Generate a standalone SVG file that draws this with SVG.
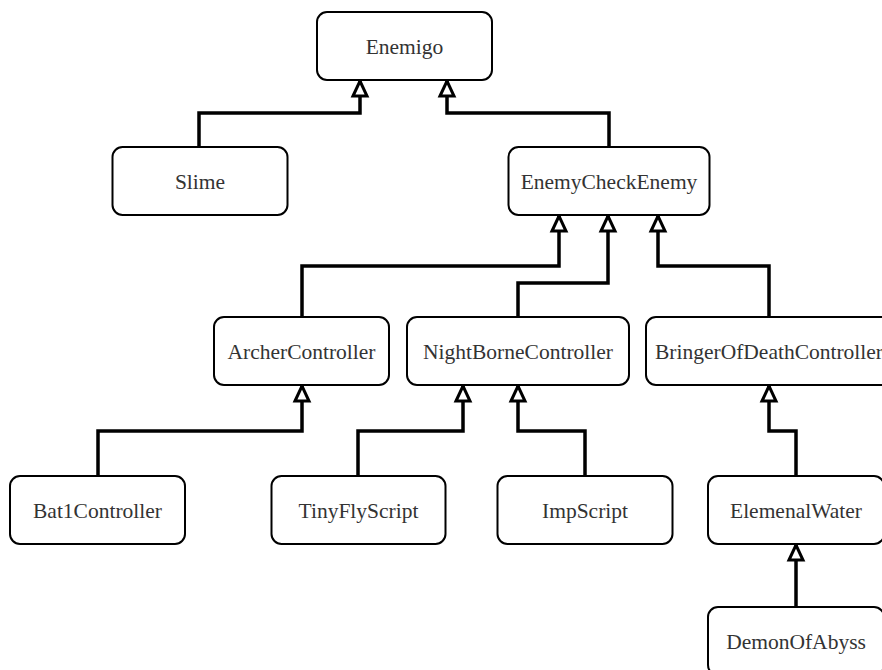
<svg xmlns="http://www.w3.org/2000/svg" width="882" height="670" viewBox="0 0 882 670">
<style>
.node rect{fill:#fff;stroke:#000;stroke-width:2}
.node text{font-family:'Liberation Serif','Times New Roman','DejaVu Serif',serif;font-size:21.5px;fill:#333;text-anchor:middle}
.edge{fill:none;stroke:#000;stroke-width:3.5;marker-end:url(#tri)}
</style>
<defs>
<marker id="tri" markerUnits="userSpaceOnUse" viewBox="0 0 26 26" markerWidth="26" markerHeight="26" refX="19" refY="13" orient="auto">
<path d="M4,6 L19,13 L4,20 Z" fill="#fff" stroke="#000" stroke-width="3"/>
</marker>
</defs>
<rect width="882" height="670" fill="#fff"/>
<g id="connectors">
<path class="edge" d="M199,147 V113 H360 V81"/>
<path class="edge" d="M609,147 V113 H447 V81"/>
<path class="edge" d="M302,317 V266 H559 V216"/>
<path class="edge" d="M518,317 V283 H608 V216"/>
<path class="edge" d="M769,317 V266 H658 V216"/>
<path class="edge" d="M98,476 V431 H302 V386"/>
<path class="edge" d="M358,476 V431 H463 V386"/>
<path class="edge" d="M585,476 V431 H518 V386"/>
<path class="edge" d="M796,476 V431 H769 V386"/>
<path class="edge" d="M796,607 V545"/>
</g>
<g id="enemigo" class="node"><rect x="317" y="12" width="175" height="68" rx="10"/><text x="404.5" y="53.5" font-family="Liberation Serif, serif">Enemigo</text></g>
<g id="slime" class="node"><rect x="112.5" y="147" width="175" height="68" rx="10"/><text x="200" y="188.5" font-family="Liberation Serif, serif">Slime</text></g>
<g id="enemycheckenemy" class="node"><rect x="508.5" y="147" width="201" height="68" rx="10"/><text x="609" y="188.5" font-family="Liberation Serif, serif">EnemyCheckEnemy</text></g>
<g id="archercontroller" class="node"><rect x="214" y="317" width="175" height="68" rx="10"/><text x="301.5" y="358.5" font-family="Liberation Serif, serif">ArcherController</text></g>
<g id="nightbornecontroller" class="node"><rect x="407" y="317" width="222" height="68" rx="10"/><text x="518" y="358.5" font-family="Liberation Serif, serif">NightBorneController</text></g>
<g id="bringerofdeathcontroller" class="node"><rect x="646" y="317" width="246" height="68" rx="10"/><text x="769" y="358.5" font-family="Liberation Serif, serif">BringerOfDeathController</text></g>
<g id="bat1controller" class="node"><rect x="10" y="476" width="175" height="68" rx="10"/><text x="97.5" y="517.5" font-family="Liberation Serif, serif">Bat1Controller</text></g>
<g id="tinyflyscript" class="node"><rect x="271.5" y="476" width="174" height="68" rx="10"/><text x="358.5" y="517.5" font-family="Liberation Serif, serif">TinyFlyScript</text></g>
<g id="impscript" class="node"><rect x="497.5" y="476" width="175" height="68" rx="10"/><text x="585" y="517.5" font-family="Liberation Serif, serif">ImpScript</text></g>
<g id="elemenalwater" class="node"><rect x="708" y="476" width="176" height="68" rx="10"/><text x="796" y="517.5" font-family="Liberation Serif, serif">ElemenalWater</text></g>
<g id="demonofabyss" class="node"><rect x="708" y="607" width="176" height="68" rx="10"/><text x="796" y="648.5" font-family="Liberation Serif, serif">DemonOfAbyss</text></g>
</svg>
